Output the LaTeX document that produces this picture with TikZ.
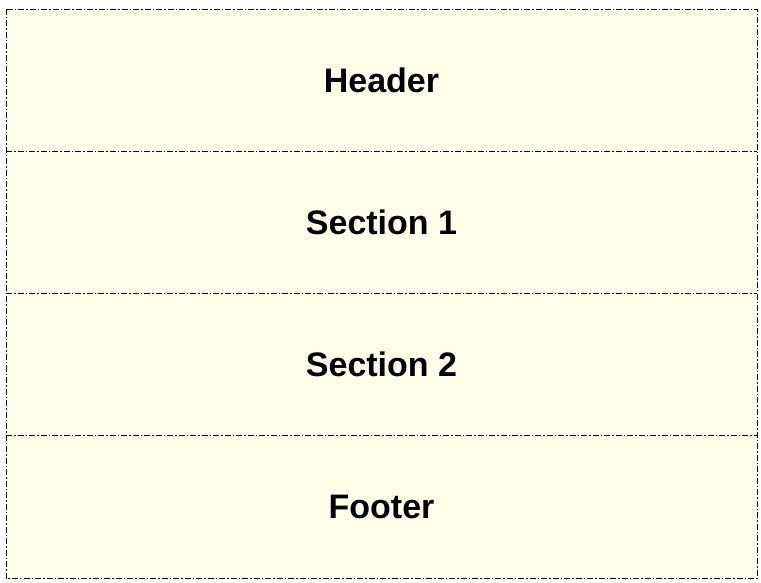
\documentclass[tikz,border=0pt]{standalone}
\usepackage{fontspec}
\setmainfont{Liberation Sans}
\usepackage{tikz}
\usetikzlibrary{positioning}

\definecolor{rowfill}{HTML}{FFFFEA}

\begin{document}
\begin{tikzpicture}[
    x=1pt, y=1pt,
    node distance=0pt,
    row/.style={rectangle, fill=rowfill, minimum width=751pt, minimum height=142.25pt, outer sep=0pt, inner sep=0pt, align=center, font=\fontsize{34}{39}\selectfont\bfseries},
    frame/.style={draw=black, line width=0.9pt, dash pattern=on 6pt off 2pt on 1.5pt off 2pt}
]
\useasboundingbox (0,0) rectangle (761,582);

% Page layout
\node[row, anchor=north west] (header) at (6,573) {Header};
\node[row, below=of header] (sec1) {Section 1};
\node[row, below=of sec1] (sec2) {Section 2};
\node[row, below=of sec2] (footer) {Footer};

% Borders
\draw[frame] (header.north west) rectangle (footer.south east);
\foreach \n in {header, sec1, sec2}
  \draw[frame] (\n.south west) -- (\n.south east);
\end{tikzpicture}
\end{document}
